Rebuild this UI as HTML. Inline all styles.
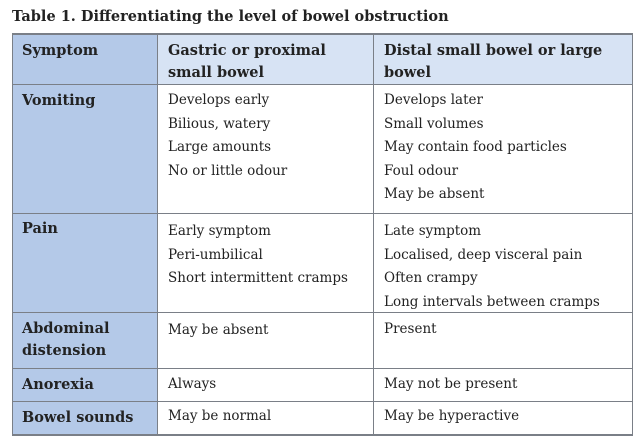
<!DOCTYPE html>
<html><head><meta charset="utf-8"><style>
body{margin:0;width:640px;height:444px;background:#fff;font-family:"DejaVu Serif","Liberation Serif",serif;color:#222;position:relative;overflow:hidden}
.t{position:absolute;left:12px;top:8px;font-size:14.5px;font-weight:bold;white-space:nowrap}
.bg{position:absolute}
.l{position:absolute;background:#7a7f87}
.x{position:absolute;font-size:13.5px;line-height:23.5px;white-space:nowrap}
.b{font-weight:bold;font-size:14.5px;line-height:22px}
</style></head><body>
<div class="t">Table 1. Differentiating the level of bowel obstruction</div>
<div class="bg" style="left:12px;top:34px;width:145px;height:401px;background:#b4c9e8"></div>
<div class="bg" style="left:157px;top:34px;width:475px;height:50px;background:#d7e3f4"></div>
<div class="l" style="left:12px;top:33px;width:621px;height:2px"></div>
<div class="l" style="left:12px;top:84px;width:621px;height:1px"></div>
<div class="l" style="left:12px;top:213px;width:621px;height:1px"></div>
<div class="l" style="left:12px;top:312px;width:621px;height:1px"></div>
<div class="l" style="left:12px;top:368px;width:621px;height:1px"></div>
<div class="l" style="left:12px;top:401px;width:621px;height:1px"></div>
<div class="l" style="left:12px;top:434px;width:621px;height:2px"></div>
<div class="l" style="left:12px;top:34px;width:1px;height:401px"></div>
<div class="l" style="left:157px;top:34px;width:1px;height:401px"></div>
<div class="l" style="left:373px;top:34px;width:1px;height:401px"></div>
<div class="l" style="left:632px;top:34px;width:1px;height:401px"></div>

<div class="x b" style="left:22px;top:40px">Symptom</div>
<div class="x b" style="left:168px;top:40px">Gastric or proximal<br>small bowel</div>
<div class="x b" style="left:384px;top:40px">Distal small bowel or large<br>bowel</div>

<div class="x b" style="left:22px;top:90px">Vomiting</div>
<div class="x" style="left:168px;top:89px">Develops early<br>Bilious, watery<br>Large amounts<br>No or little odour</div>
<div class="x" style="left:384px;top:89px">Develops later<br>Small volumes<br>May contain food particles<br>Foul odour<br>May be absent</div>

<div class="x b" style="left:22px;top:218px">Pain</div>
<div class="x" style="left:168px;top:220px">Early symptom<br>Peri-umbilical<br>Short intermittent cramps</div>
<div class="x" style="left:384px;top:220px">Late symptom<br>Localised, deep visceral pain<br><span style="line-height:20px">Often crampy</span><br><span>Long intervals between cramps</span></div>

<div class="x b" style="left:22px;top:318px">Abdominal<br>distension</div>
<div class="x" style="left:168px;top:319px">May be absent</div>
<div class="x" style="left:384px;top:318px">Present</div>

<div class="x b" style="left:22px;top:374px">Anorexia</div>
<div class="x" style="left:168px;top:373px">Always</div>
<div class="x" style="left:384px;top:373px">May not be present</div>

<div class="x b" style="left:22px;top:407px">Bowel sounds</div>
<div class="x" style="left:168px;top:405px">May be normal</div>
<div class="x" style="left:384px;top:405px">May be hyperactive</div>
</body></html>
